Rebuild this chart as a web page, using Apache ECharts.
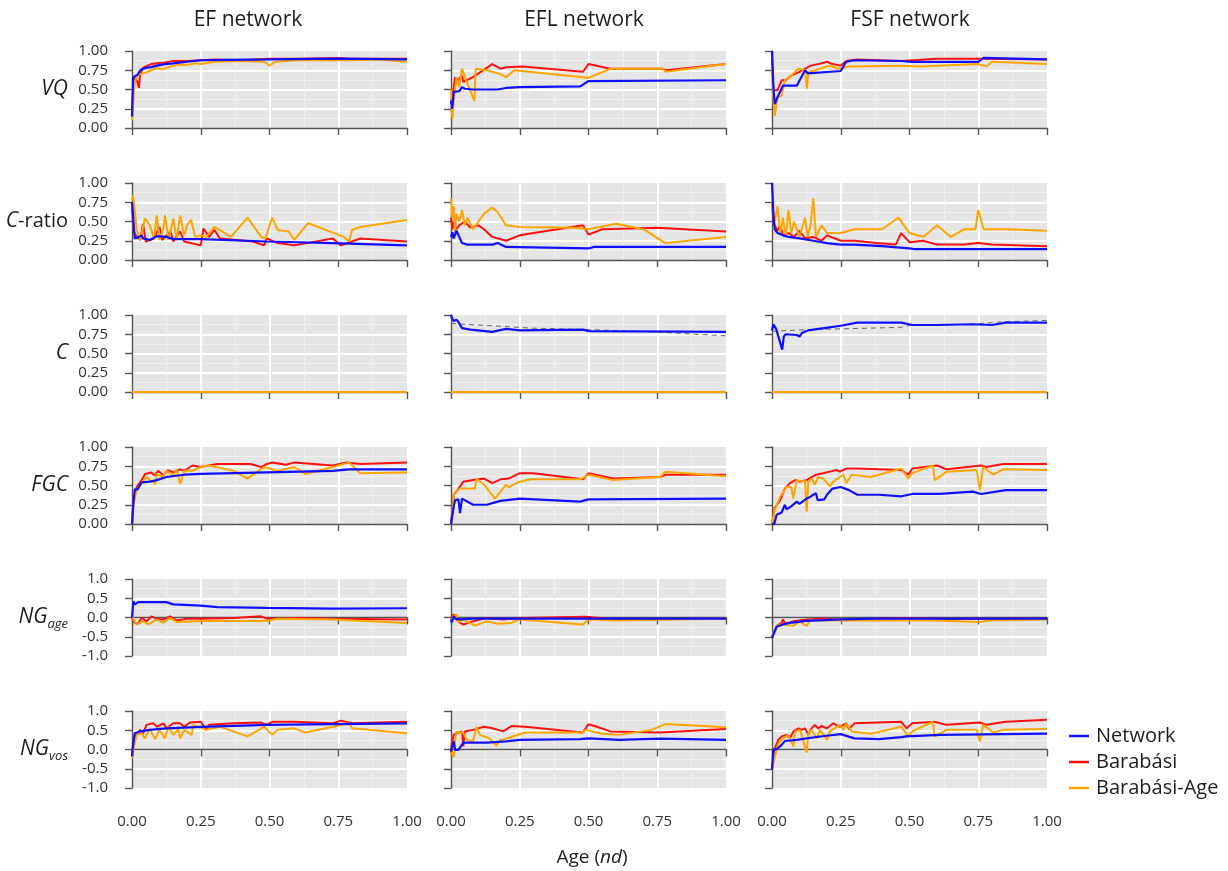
<!DOCTYPE html>
<html>
<head>
<meta charset="utf-8">
<script src="https://cdn.jsdelivr.net/npm/echarts@6/dist/echarts.min.js"></script>
<style>
  html, body { margin: 0; padding: 0; background: #fff; }
  #chart { width: 1228px; height: 871px; }
</style>
</head>
<body>
<div id="chart"></div>
<script>
// Network growth metrics vs. normalised age, three networks, three models each.
const networks = ['EF network', 'EFL network', 'FSF network'];
const seriesNames = ['Network', 'Barabási', 'Barabási-Age'];
const unitTicks = [0, 0.25, 0.5, 0.75, 1];
const signedTicks = [-1, -0.5, 0, 0.5, 1];
const ageTicks = [0, 0.25, 0.5, 0.75, 1];

// ---- VQ ----
const vqEF_net = [[0,.15],[.004,.66],[.01,.67],[.02,.69],[.03,.75],[.04,.77],[.05,.78],[.07,.79],[.09,.81],[.12,.83],[.15,.84],[.2,.86],[.25,.88],[.35,.885],[.5,.89],[.75,.9],[1,.89]];
const vqEF_bar = [[0,.2],[.004,.5],[.008,.66],[.015,.66],[.02,.6],[.025,.52],[.03,.7],[.04,.78],[.05,.8],[.07,.83],[.09,.84],[.12,.85],[.15,.87],[.2,.87],[.25,.88],[.3,.89],[.4,.88],[.5,.9],[.6,.9],[.75,.91],[.8,.9],[1,.9]];
const vqEF_age = [[0,.1],[.004,.3],[.01,.6],[.02,.68],[.03,.7],[.05,.72],[.07,.75],[.09,.78],[.11,.76],[.14,.8],[.17,.82],[.2,.82],[.23,.84],[.25,.83],[.3,.86],[.4,.87],[.48,.86],[.5,.81],[.52,.86],[.6,.88],[.7,.88],[.8,.88],[.9,.89],[1,.86]];
const vqEFL_net = [[0,.36],[.004,.25],[.01,.47],[.03,.48],[.04,.53],[.05,.51],[.08,.5],[.17,.5],[.2,.52],[.25,.53],[.47,.54],[.5,.61],[1,.62]];
const vqEFL_bar = [[0,.33],[.005,.31],[.01,.53],[.015,.66],[.02,.6],[.03,.64],[.04,.68],[.045,.6],[.08,.66],[.15,.83],[.18,.77],[.2,.79],[.26,.8],[.48,.73],[.5,.83],[.58,.77],[.77,.77],[.78,.75],[1,.83]];
const vqEFL_age = [[0,.5],[.005,.12],[.01,.36],[.02,.66],[.03,.53],[.04,.77],[.055,.62],[.085,.35],[.09,.77],[.13,.75],[.18,.7],[.2,.66],[.23,.75],[.48,.66],[.5,.65],[.58,.77],[.77,.77],[.78,.73],[1,.83]];
const vqFSF_net = [[0,1],[.005,.53],[.01,.31],[.02,.4],[.04,.55],[.09,.55],[.12,.75],[.13,.71],[.25,.74],[.27,.86],[.3,.88],[.47,.87],[.51,.86],[.75,.86],[.77,.91],[1,.89]];
const vqFSF_bar = [[0,.9],[.005,.49],[.02,.49],[.035,.62],[.05,.62],[.07,.68],[.1,.73],[.14,.81],[.17,.83],[.2,.86],[.22,.83],[.25,.81],[.27,.87],[.31,.89],[.47,.87],[.6,.9],[.75,.9],[1,.89]];
const vqFSF_age = [[0,.8],[.005,.36],[.01,.16],[.02,.4],[.035,.42],[.047,.62],[.07,.68],[.095,.77],[.12,.75],[.127,.51],[.132,.73],[.16,.75],[.19,.79],[.21,.81],[.24,.77],[.28,.8],[.47,.81],[.54,.8],[.75,.83],[.78,.8],[.8,.86],[1,.83]];

// ---- C-ratio ----
const crEF_net = [[0,.75],[.005,.52],[.01,.28],[.02,.29],[.035,.32],[.04,.28],[.065,.26],[.09,.31],[.125,.3],[.15,.27],[.25,.27],[.49,.24],[.73,.22],[1,.19]];
const crEF_bar = [[0,.73],[.005,.39],[.01,.34],[.03,.26],[.04,.47],[.05,.24],[.08,.28],[.1,.43],[.11,.26],[.14,.37],[.15,.24],[.175,.37],[.19,.24],[.25,.19],[.26,.41],[.28,.3],[.3,.39],[.32,.28],[.44,.24],[.48,.19],[.49,.28],[.53,.22],[.59,.19],[.73,.28],[.76,.19],[.83,.28],[1,.24]];
const crEF_age = [[0,.78],[.003,.84],[.01,.65],[.017,.39],[.03,.26],[.047,.54],[.065,.45],[.08,.28],[.09,.58],[.1,.26],[.115,.43],[.12,.58],[.133,.26],[.15,.54],[.163,.26],[.175,.58],[.19,.32],[.2,.45],[.215,.52],[.23,.3],[.25,.32],[.27,.3],[.3,.43],[.36,.3],[.42,.55],[.47,.3],[.485,.28],[.51,.55],[.53,.39],[.57,.37],[.59,.26],[.64,.48],[.77,.3],[.79,.24],[.8,.39],[.83,.43],[1,.52]];
const crEFL_net = [[0,.3],[.005,.36],[.01,.28],[.02,.38],[.03,.3],[.04,.22],[.06,.2],[.15,.2],[.17,.22],[.2,.17],[.5,.15],[.52,.17],[1,.17]];
const crEFL_bar = [[0,.55],[.005,.4],[.01,.5],[.02,.4],[.03,.45],[.05,.5],[.07,.42],[.1,.45],[.12,.4],[.15,.3],[.2,.25],[.25,.32],[.3,.35],[.48,.45],[.5,.33],[.55,.4],[.75,.42],[1,.37]];
const crEFL_age = [[0,.8],[.005,.55],[.01,.7],[.015,.35],[.02,.6],[.03,.5],[.04,.65],[.05,.45],[.06,.55],[.08,.4],[.1,.5],[.12,.6],[.15,.68],[.17,.62],[.2,.45],[.25,.43],[.45,.42],[.5,.4],[.6,.47],[.7,.4],[.78,.22],[1,.3]];
const crFSF_net = [[0,1],[.005,.6],[.01,.4],[.02,.35],[.04,.32],[.06,.3],[.1,.28],[.15,.25],[.2,.22],[.25,.2],[.3,.2],[.4,.18],[.5,.15],[.52,.14],[1,.14]];
const crFSF_bar = [[0,.75],[.005,.5],[.01,.45],[.02,.38],[.03,.45],[.04,.32],[.06,.35],[.08,.3],[.1,.38],[.12,.28],[.15,.3],[.18,.25],[.2,.32],[.25,.25],[.3,.25],[.38,.22],[.45,.2],[.47,.35],[.5,.23],[.55,.25],[.6,.2],[.7,.2],[.75,.22],[.8,.2],[1,.18]];
const crFSF_age = [[0,.75],[.005,.6],[.01,.5],[.02,.7],[.03,.35],[.04,.55],[.05,.3],[.06,.65],[.07,.35],[.08,.5],[.1,.3],[.12,.55],[.13,.3],[.14,.45],[.15,.8],[.16,.3],[.18,.45],[.2,.35],[.25,.35],[.3,.4],[.4,.4],[.46,.55],[.5,.35],[.55,.3],[.6,.45],[.65,.3],[.7,.4],[.74,.4],[.75,.65],[.77,.4],[.85,.4],[1,.38]];

// ---- C ----
const cEF_net = [];
const cEF_bar = [[0,0],[1,0]];
const cEF_age = [[0,0],[1,0]];
const cEFL_net = [[0,1],[.005,.95],[.01,.92],[.02,.94],[.027,.91],[.033,.93],[.04,.83],[.07,.81],[.15,.78],[.2,.82],[.25,.8],[.48,.81],[.5,.79],[1,.78]];
const cEFL_bar = [[0,0],[1,0]];
const cEFL_age = [[0,0],[1,0]];
const cEFL_ref = [[0,.89],[.045,.88],[.15,.86],[.29,.83],[.5,.81],[.75,.78],[.89,.75],[1,.73]];
const cFSF_net = [[0,.8],[.005,.88],[.015,.82],[.025,.7],[.037,.55],[.043,.72],[.05,.75],[.09,.74],[.1,.72],[.11,.77],[.13,.8],[.19,.83],[.25,.86],[.31,.9],[.47,.9],[.51,.87],[.6,.87],[.73,.88],[.8,.87],[.85,.9],[1,.9]];
const cFSF_bar = [[0,0],[1,0]];
const cFSF_age = [[0,0],[1,0]];
const cFSF_ref = [[0,.79],[.13,.81],[.25,.82],[.47,.84],[.51,.87],[.73,.88],[.83,.91],[1,.93]];

// ---- FGC ----
const fgcEF_net = [[0,0],[.005,.27],[.01,.45],[.02,.45],[.035,.54],[.065,.55],[.09,.57],[.125,.61],[.19,.64],[.25,.65],[.49,.67],[.73,.69],[.79,.71],[1,.71]];
const fgcEF_bar = [[0,0],[.005,.31],[.017,.48],[.035,.57],[.048,.65],[.07,.67],[.083,.63],[.095,.69],[.114,.63],[.13,.7],[.15,.67],[.175,.71],[.19,.69],[.22,.76],[.25,.74],[.31,.78],[.43,.78],[.47,.74],[.49,.78],[.51,.8],[.56,.77],[.59,.8],[.73,.76],[.78,.8],[.83,.78],[1,.8]];
const fgcEF_age = [[0,0],[.005,.25],[.017,.44],[.035,.54],[.053,.61],[.065,.57],[.085,.52],[.09,.65],[.11,.61],[.125,.69],[.15,.63],[.163,.71],[.175,.52],[.19,.69],[.22,.69],[.25,.74],[.28,.76],[.37,.69],[.42,.59],[.48,.74],[.53,.69],[.59,.74],[.63,.65],[.73,.74],[.79,.8],[.83,.66],[1,.67]];
const fgcEFL_net = [[0,0],[.004,0],[.01,.23],[.015,.31],[.027,.32],[.033,.14],[.04,.33],[.08,.25],[.13,.25],[.18,.3],[.25,.33],[.47,.29],[.5,.32],[1,.33]];
const fgcEFL_bar = [[0,0],[.003,.1],[.01,.38],[.02,.42],[.045,.55],[.08,.57],[.12,.59],[.15,.53],[.18,.58],[.21,.59],[.25,.66],[.3,.66],[.48,.58],[.5,.66],[.59,.59],[.76,.61],[.78,.64],[1,.64]];
const fgcEFL_age = [[0,0],[.003,.05],[.01,.38],[.02,.42],[.033,.46],[.087,.46],[.093,.59],[.12,.51],[.16,.33],[.2,.51],[.21,.48],[.25,.55],[.29,.58],[.47,.58],[.5,.64],[.59,.57],[.76,.61],[.78,.68],[1,.62]];
const fgcFSF_net = [[0,0],[.008,0],[.017,.12],[.035,.15],[.047,.25],[.053,.19],[.07,.23],[.09,.29],[.1,.26],[.126,.33],[.138,.35],[.15,.38],[.16,.4],[.166,.31],[.19,.32],[.2,.38],[.206,.36],[.22,.46],[.25,.48],[.28,.44],[.31,.38],[.39,.38],[.47,.36],[.51,.39],[.61,.39],[.73,.42],[.76,.39],[.85,.44],[1,.44]];
const fgcFSF_bar = [[0,0],[.01,.21],[.03,.31],[.047,.46],[.065,.53],[.085,.57],[.1,.55],[.126,.57],[.144,.61],[.16,.64],[.186,.66],[.21,.68],[.235,.7],[.247,.68],[.27,.72],[.31,.72],[.47,.7],[.496,.64],[.51,.72],[.6,.76],[.635,.71],[.76,.76],[.78,.74],[.84,.78],[1,.78]];
const fgcFSF_age = [[0,0],[.01,.18],[.03,.36],[.047,.44],[.053,.48],[.07,.48],[.077,.33],[.09,.57],[.108,.55],[.12,.57],[.126,.16],[.132,.55],[.144,.59],[.156,.51],[.168,.61],[.186,.59],[.21,.49],[.223,.55],[.247,.61],[.26,.64],[.27,.53],[.29,.64],[.36,.61],[.47,.72],[.496,.59],[.51,.66],[.585,.76],[.592,.57],[.635,.68],[.744,.7],[.756,.44],[.768,.74],[.805,.64],[.84,.71],[1,.7]];

// ---- NG age ----
const ngaEF_net = [[0,0],[.005,.42],[.01,.34],[.023,.4],[.065,.4],[.125,.4],[.15,.34],[.25,.31],[.31,.27],[.49,.25],[.73,.23],[1,.24]];
const ngaEF_bar = [[0,0],[.01,-.14],[.023,-.16],[.035,0],[.053,-.1],[.07,.03],[.09,-.03],[.114,-.05],[.138,.03],[.163,-.08],[.2,-.03],[.25,-.03],[.37,-.01],[.47,.03],[.49,-.03],[.61,-.01],[.73,-.03],[1,-.05]];
const ngaEF_age = [[0,.03],[.017,-.18],[.04,-.1],[.06,-.18],[.09,-.05],[.114,-.14],[.138,-.01],[.163,-.12],[.25,-.09],[.49,-.09],[.53,-.03],[.73,-.05],[1,-.14]];
const ngaEFL_net = [[0,-.05],[.003,-.12],[.01,.03],[.015,-.03],[.02,-.08],[.033,-.05],[.08,-.03],[.25,-.03],[.5,-.03],[1,-.03]];
const ngaEFL_bar = [[0,-.01],[.01,.08],[.015,.12],[.02,-.05],[.033,-.14],[.045,-.18],[.08,-.1],[.13,-.01],[.19,-.05],[.25,-.01],[.49,.02],[.61,-.05],[1,-.03]];
const ngaEFL_age = [[0,-.1],[.01,.03],[.02,.08],[.027,-.14],[.04,-.05],[.057,-.1],[.087,-.21],[.13,-.1],[.17,-.16],[.22,-.14],[.25,-.05],[.48,-.18],[.5,-.05],[.61,-.08],[.8,-.05],[1,-.03]];
const ngaFSF_net = [[0,-.53],[.005,-.48],[.017,-.24],[.04,-.18],[.065,-.14],[.126,-.09],[.19,-.07],[.25,-.05],[.37,-.03],[1,-.03]];
const ngaFSF_bar = [[0,-.53],[.017,-.22],[.035,-.14],[.04,-.05],[.047,-.16],[.077,-.1],[.126,-.05],[.19,-.03],[.25,-.05],[.49,-.01],[.61,-.03],[1,-.03]];
const ngaFSF_age = [[0,-.48],[.017,-.22],[.035,-.18],[.077,-.22],[.1,-.1],[.126,-.22],[.138,-.08],[.2,-.08],[.25,-.08],[.37,-.08],[.5,-.08],[.59,-.08],[.755,-.12],[.79,-.08],[1,-.05]];

// ---- NG vos ----
const ngvEF_net = [[0,-.18],[.003,.08],[.01,.42],[.03,.47],[.065,.51],[.125,.55],[.25,.59],[.49,.64],[.73,.66],[1,.68]];
const ngvEF_bar = [[0,-.18],[.01,.34],[.03,.51],[.04,.42],[.053,.64],[.078,.68],[.09,.59],[.114,.68],[.126,.55],[.15,.68],[.175,.68],[.19,.59],[.21,.7],[.25,.72],[.27,.51],[.28,.64],[.37,.68],[.47,.7],[.49,.64],[.51,.72],[.59,.72],[.73,.68],[.76,.75],[.8,.68],[1,.72]];
const ngvEF_age = [[0,-.22],[.01,.16],[.017,.38],[.035,.42],[.047,.29],[.065,.53],[.084,.27],[.1,.51],[.12,.29],[.132,.59],[.15,.38],[.168,.53],[.175,.29],[.19,.51],[.217,.38],[.223,.64],[.27,.51],[.32,.59],[.42,.34],[.48,.59],[.51,.38],[.53,.51],[.59,.55],[.63,.44],[.73,.59],[.79,.68],[.8,.55],[1,.42]];
const ngvEFL_net = [[0,-.05],[.003,.03],[.01,.21],[.015,-.01],[.027,-.01],[.033,.01],[.045,.18],[.08,.18],[.13,.18],[.2,.21],[.25,.25],[.47,.27],[.5,.29],[.61,.25],[.76,.28],[1,.25]];
const ngvEFL_bar = [[0,-.08],[.003,.16],[.01,.38],[.02,.42],[.04,.47],[.045,.08],[.05,.47],[.08,.51],[.12,.59],[.15,.55],[.19,.47],[.22,.61],[.27,.59],[.48,.44],[.5,.66],[.53,.59],[.58,.47],[.76,.44],[1,.53]];
const ngvEFL_age = [[0,-.14],[.003,-.05],[.01,-.2],[.015,.25],[.02,.47],[.033,.42],[.042,.47],[.057,.25],[.08,.21],[.093,.59],[.105,.38],[.14,.29],[.165,.1],[.18,.25],[.19,.26],[.23,.35],[.27,.44],[.48,.44],[.49,.51],[.55,.41],[.61,.38],[.73,.51],[.78,.66],[1,.58]];
const ngvFSF_net = [[0,-.51],[.005,-.01],[.01,-.02],[.017,.01],[.035,.12],[.047,.22],[.09,.25],[.126,.29],[.19,.35],[.25,.4],[.3,.29],[.39,.27],[.47,.32],[.49,.34],[.61,.38],[1,.41]];
const ngvFSF_bar = [[0,-.51],[.01,.03],[.023,.25],[.035,.34],[.053,.38],[.065,.29],[.078,.47],[.096,.55],[.108,.51],[.12,.55],[.132,.38],[.144,.55],[.156,.64],[.168,.55],[.18,.61],[.2,.55],[.223,.68],[.247,.59],[.27,.68],[.28,.53],[.3,.68],[.47,.72],[.49,.55],[.51,.68],[.59,.72],[.635,.64],[.756,.7],[.78,.64],[.85,.72],[1,.77]];
const ngvFSF_age = [[0,-.48],[.01,-.2],[.023,.16],[.041,.29],[.059,.38],[.078,.08],[.084,.47],[.102,.51],[.126,-.08],[.132,.42],[.144,.51],[.163,.29],[.175,.51],[.2,.25],[.21,.47],[.247,.64],[.26,.51],[.27,.68],[.29,.47],[.36,.41],[.47,.59],[.496,.34],[.51,.47],[.585,.72],[.592,.34],[.635,.51],[.744,.51],[.756,.21],[.768,.64],[.805,.44],[.84,.51],[1,.53]];

// One row per metric: label (rich text), y ticks, and the three columns.
const rows = [
  { label: '{i|VQ}', ticks: unitTicks, digits: 2,
    cells: [[vqEF_net, vqEF_bar, vqEF_age], [vqEFL_net, vqEFL_bar, vqEFL_age], [vqFSF_net, vqFSF_bar, vqFSF_age]] },
  { label: '{i|C}{n|-ratio}', ticks: unitTicks, digits: 2,
    cells: [[crEF_net, crEF_bar, crEF_age], [crEFL_net, crEFL_bar, crEFL_age], [crFSF_net, crFSF_bar, crFSF_age]] },
  { label: '{i|C}', ticks: unitTicks, digits: 2,
    cells: [[cEF_net, cEF_bar, cEF_age], [cEFL_net, cEFL_bar, cEFL_age, cEFL_ref], [cFSF_net, cFSF_bar, cFSF_age, cFSF_ref]] },
  { label: '{i|FGC}', ticks: unitTicks, digits: 2,
    cells: [[fgcEF_net, fgcEF_bar, fgcEF_age], [fgcEFL_net, fgcEFL_bar, fgcEFL_age], [fgcFSF_net, fgcFSF_bar, fgcFSF_age]] },
  { label: '{i|NG}{s|age}', ticks: signedTicks, digits: 1,
    cells: [[ngaEF_net, ngaEF_bar, ngaEF_age], [ngaEFL_net, ngaEFL_bar, ngaEFL_age], [ngaFSF_net, ngaFSF_bar, ngaFSF_age]] },
  { label: '{i|NG}{s|vos}', ticks: signedTicks, digits: 1,
    cells: [[ngvEF_net, ngvEF_bar, ngvEF_age], [ngvEFL_net, ngvEFL_bar, ngvEFL_age], [ngvFSF_net, ngvFSF_bar, ngvFSF_age]] }
];

const FONT = '"Open Sans", "Noto Sans", sans-serif';
const COLORS = { net: '#1010ff', bar: '#ff1010', age: '#ffa500' };
const AXIS = '#555555';
const TEXT = '#1e1e1e';
const TICKTEXT = '#333333';

const colLeft = [132, 451, 772];
const rowTop = [51, 183, 315, 447, 579, 711];
const panelW = 275, panelH = 77;

const richLabel = {
  i: { fontFamily: FONT, fontSize: 21, fontStyle: 'italic', color: TEXT, lineHeight: 26 },
  n: { fontFamily: FONT, fontSize: 20, color: TEXT, lineHeight: 26 },
  s: { fontFamily: FONT, fontSize: 13, fontStyle: 'italic', color: TEXT, lineHeight: 26, verticalAlign: 'bottom', padding: [8, 0, 0, 0] }
};

const grid = [], xAxis = [], yAxis = [], series = [];

rows.forEach((row, r) => {
  row.cells.forEach((cell, c) => {
    const idx = grid.length;
    grid.push({
      left: colLeft[c], top: rowTop[r], width: panelW, height: panelH,
      show: true, backgroundColor: '#e5e5e5', borderWidth: 0,
      containLabel: false, outerBoundsMode: 'none'
    });
    const bottomRow = r === rows.length - 1;
    xAxis.push({
      type: 'value', gridIndex: idx, min: ageTicks[0], max: ageTicks[ageTicks.length - 1],
      interval: ageTicks[1] - ageTicks[0], offset: 13,
      axisLine: { show: true, lineStyle: { color: AXIS, width: 1.4 } },
      axisTick: { show: true, length: 7, lineStyle: { color: AXIS, width: 1.4 } },
      axisLabel: { show: bottomRow, margin: 13, fontFamily: FONT, fontSize: 15, color: TICKTEXT,
                   formatter: v => v.toFixed(2) },
      splitLine: { show: true, showMinLine: false, showMaxLine: false, lineStyle: { color: '#ffffff', width: 2 } },
      minorTick: { show: false, splitNumber: 2 },
      minorSplitLine: { show: true, lineStyle: { color: '#f1f1f1', width: 1 } }
    });
    const t = row.ticks;
    yAxis.push({
      type: 'value', gridIndex: idx, min: t[0], max: t[t.length - 1], interval: t[1] - t[0], offset: 14,
      name: c === 0 ? row.label : '', nameLocation: 'middle', nameRotate: 0, nameGap: 50,
      nameTextStyle: { rich: richLabel, align: 'right', verticalAlign: 'middle' },
      axisLine: { show: true, lineStyle: { color: AXIS, width: 1.4 } },
      axisTick: { show: true, length: 7, lineStyle: { color: AXIS, width: 1.4 } },
      axisLabel: { show: c === 0, margin: 10, fontFamily: FONT, fontSize: 15, color: TICKTEXT,
                   formatter: v => v.toFixed(row.digits) },
      splitLine: { show: true, showMinLine: false, showMaxLine: false, lineStyle: { color: '#ffffff', width: 2 } },
      minorTick: { show: false, splitNumber: 2 },
      minorSplitLine: { show: true, lineStyle: { color: '#f1f1f1', width: 1 } }
    });
    const [net, bar, age, ref] = cell;
    const base = { type: 'line', xAxisIndex: idx, yAxisIndex: idx, showSymbol: false, symbol: 'none',
                   animation: false, silent: true, clip: true };
    if (ref) {
      series.push(Object.assign({}, base, { name: 'expected', data: ref, z: 1,
        lineStyle: { color: '#6a6a6a', width: 1, type: [5, 4] }, itemStyle: { color: '#6a6a6a' } }));
    }
    series.push(Object.assign({}, base, { name: seriesNames[1], data: bar, z: 2,
      lineStyle: { color: COLORS.bar, width: 2 }, itemStyle: { color: COLORS.bar } }));
    series.push(Object.assign({}, base, { name: seriesNames[2], data: age, z: 3,
      lineStyle: { color: COLORS.age, width: 2 }, itemStyle: { color: COLORS.age } }));
    series.push(Object.assign({}, base, { name: seriesNames[0], data: net, z: 4,
      lineStyle: { color: COLORS.net, width: 2.2 }, itemStyle: { color: COLORS.net } }));
  });
});

const titleCenters = [248, 584, 910];
const graphic = networks.map((n, i) => ({
  type: 'text', x: titleCenters[i], y: 20,
  style: { text: n, fontFamily: FONT, fontSize: 21, fill: TEXT, textAlign: 'center', textVerticalAlign: 'middle' }
}));
graphic.push({
  type: 'text', x: 592, y: 858,
  style: {
    text: '{n|Age (}{i|nd}{n|)}', textAlign: 'center', textVerticalAlign: 'middle',
    rich: {
      n: { fontFamily: FONT, fontSize: 19, fill: TEXT, color: TEXT },
      i: { fontFamily: FONT, fontSize: 19, fontStyle: 'italic', fill: TEXT, color: TEXT }
    }
  }
});

const chart = echarts.init(document.getElementById('chart'), null, { renderer: 'canvas' });
chart.setOption({
  backgroundColor: '#ffffff',
  animation: false,
  textStyle: { fontFamily: FONT },
  grid, xAxis, yAxis, series, graphic,
  legend: {
    data: seriesNames.map(n => ({ name: n, icon: 'rect' })),
    orient: 'vertical', left: 1064, top: 721,
    itemWidth: 20, itemHeight: 2.5, itemGap: 6,
    textStyle: { fontFamily: FONT, fontSize: 20, color: TEXT, lineHeight: 20, padding: [0, 0, 0, 2] },
    selectedMode: false
  }
});
</script>
</body>
</html>
